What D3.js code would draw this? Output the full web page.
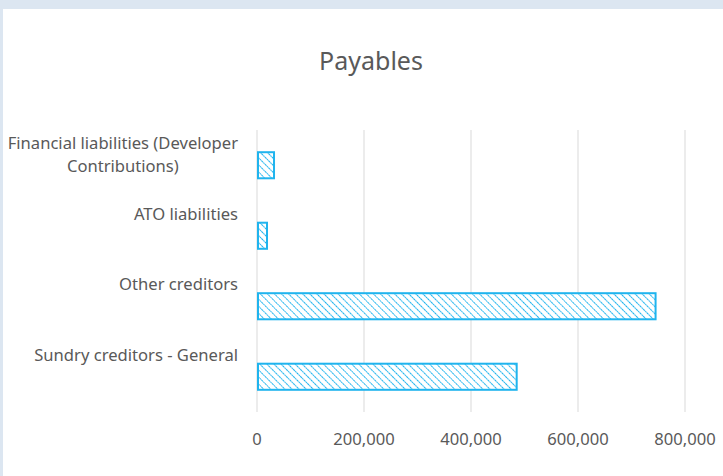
<!DOCTYPE html>
<html>
<head>
<meta charset="utf-8">
<script src="https://cdn.jsdelivr.net/npm/d3@7"></script>
<style>
  html, body { margin: 0; padding: 0; background: #dce6f1; }
  #chart { position: absolute; left: 3px; top: 9px; width: 720px; height: 467px; background: #fff; }
  text { font-family: "Noto Sans", "Open Sans", sans-serif; fill: #595959; }
</style>
</head>
<body>
<div id="chart"></div>
<script>
// categories, top to bottom
var categories = [
  "Financial liabilities (Developer|Contributions)",
  "ATO liabilities",
  "Other creditors",
  "Sundry creditors - General"
];
var values = [31800, 18700, 745000, 485400];
var tickValues = [0, 200000, 400000, 600000, 800000];

var width = 720, height = 467;
// plot area (in card coords)
var margin = { top: 121, right: 38, bottom: 64, left: 254 };

var svg = d3.select("#chart")
  .append("svg")
  .attr("width", width)
  .attr("height", height);

var defs = svg.append("defs");
var pat = defs.append("pattern")
  .attr("id", "hatch")
  .attr("patternUnits", "userSpaceOnUse")
  .attr("width", 5)
  .attr("height", 5)
  .attr("patternTransform", "rotate(-45)");
pat.append("rect").attr("width", 5).attr("height", 5).attr("fill", "#fff");
pat.append("line")
  .attr("x1", 0).attr("y1", 0).attr("x2", 0).attr("y2", 5)
  .attr("stroke", "#1fb4ee")
  .attr("stroke-width", 2)
  .attr("stroke-dasharray", "2,0.6");

svg.append("text")
  .attr("x", 368)
  .attr("y", 61)
  .attr("text-anchor", "middle")
  .style("font-size", "25px")
  .text("Payables");

// 200k per ~107px
var x = d3.scaleLinear()
  .domain([0, 800000])
  .range([margin.left, margin.left + 428]);

var y = d3.scaleBand()
  .domain(categories)
  .range([margin.top, height - margin.bottom])
  .paddingInner(0.63)
  .paddingOuter(0.315);

var g = svg.append("g");

// gridlines
g.selectAll("line.grid")
  .data(tickValues)
  .enter()
  .append("line")
  .attr("class", "grid")
  .attr("x1", function (d) { return x(d); })
  .attr("x2", function (d) { return x(d); })
  .attr("y1", margin.top)
  .attr("y2", height - margin.bottom)
  .attr("stroke", "#d9d9d9")
  .attr("stroke-width", 1);

// bars
g.selectAll("rect.bar")
  .data(values)
  .enter()
  .append("rect")
  .attr("class", "bar")
  .attr("x", x(0) + 1)
  .attr("y", function (d, i) { return y(categories[i]); })
  .attr("width", function (d) { return x(d) - x(0) - 1; })
  .attr("height", y.bandwidth())
  .attr("fill", "url(#hatch)")
  .attr("stroke", "#1fb4ee")
  .attr("stroke-width", 2);

// category labels
var labels = g.selectAll("text.cat")
  .data(categories)
  .enter()
  .append("text")
  .attr("class", "cat")
  .attr("text-anchor", "end")
  .style("font-size", "16.6px");

labels.each(function (d) {
  var lines = d.split("|");
  var cy = y(d) + y.bandwidth() / 2 - 22 + 6;
  d3.select(this).selectAll("tspan")
    .data(lines)
    .enter()
    .append("tspan")
    .attr("x", 235)
    .attr("y", function (l, j) { return cy + j * 23; })
    .text(function (l) { return l; });
});
// center second line of wrapped label under first
labels.filter(function (d) { return d.indexOf("|") >= 0; })
  .each(function () {
    var spans = d3.select(this).selectAll("tspan").nodes();
    var w0 = spans[0].getComputedTextLength();
    var mid = 235 - w0 / 2;
    d3.select(spans[1]).attr("x", mid).attr("text-anchor", "middle");
  });

// x axis labels
var fmt = d3.format(",");
g.selectAll("text.tick")
  .data(tickValues)
  .enter()
  .append("text")
  .attr("class", "tick")
  .attr("x", function (d) { return x(d); })
  .attr("y", height - margin.bottom + 33)
  .attr("text-anchor", "middle")
  .style("font-size", "16.6px")
  .text(function (d) { return fmt(d); });
</script>
</body>
</html>
